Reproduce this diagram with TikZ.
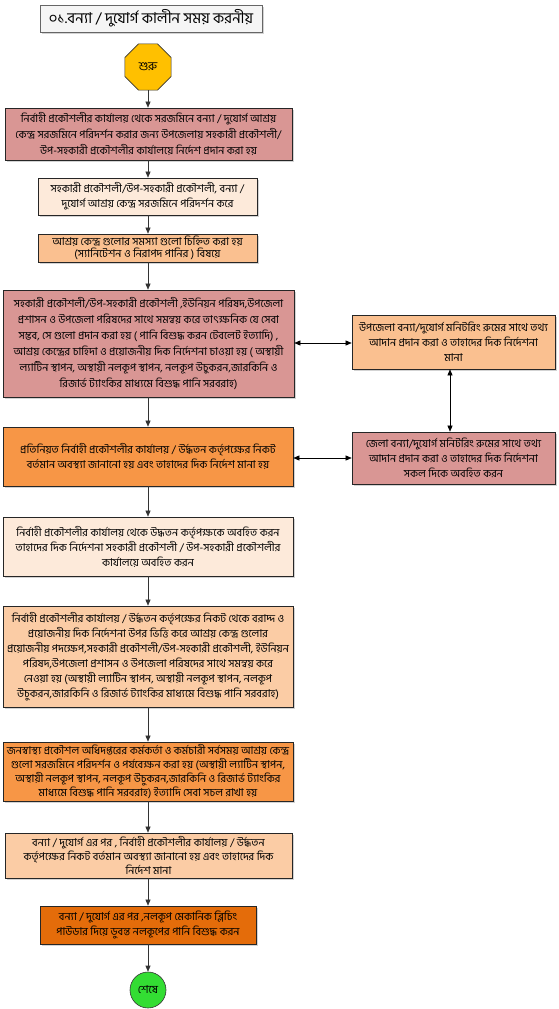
\documentclass[tikz,border=0pt]{standalone}
\usepackage{fontspec}
\usepackage{graphicx}
\newfontfamily\bn[Script=Bengali]{Hind Siliguri}
\usetikzlibrary{arrows.meta,shapes.geometric,shadows,calc}
\definecolor{rose}{HTML}{D99694}
\definecolor{lpeach}{HTML}{FDEADA}
\definecolor{lorange}{HTML}{FAC090}
\definecolor{morange}{HTML}{FBCCA5}
\definecolor{orange1}{HTML}{F79646}
\definecolor{orange2}{HTML}{E46C0A}
\definecolor{yel}{HTML}{FFC000}
\definecolor{grn}{HTML}{33DD33}
\newlength\maxw
\newcommand\fl[1]{\sbox0{#1}\ifdim\wd0>\maxw\resizebox{\maxw}{\height}{#1}\else\usebox0\fi}
\tikzset{
  box/.style={draw=black!85, line width=0.7pt, rectangle, align=center, inner sep=1pt,
    font=\bn\fontsize{10.8}{15}\selectfont,
    drop shadow={shadow xshift=1.5pt, shadow yshift=-1.5pt, opacity=0.35}},
  mw/.style={execute at begin node={\setlength\maxw{#1pt}}},
  arr/.style={-{Triangle[length=6pt,width=5pt]}, line width=0.6pt, draw=black!80},
  darr/.style={{Triangle[length=6pt,width=5pt]}-{Triangle[length=6pt,width=5pt]}, line width=0.6pt},
}
\begin{document}
\begin{tikzpicture}[x=1pt,y=-1pt]
\useasboundingbox (0,0) rectangle (558,1009);
\node[box, fill=black!4, draw=black!60, minimum width=222, minimum height=27, font=\bn\fontsize{15}{16}\selectfont] (title) at (151,18.5) {০১.বন্যা / দুযোর্গ কালীন সময় করনীয়};
\node[draw=black!80, line width=0.6pt, fill=yel, regular polygon, regular polygon sides=8, minimum size=50, inner sep=0pt, font=\bn\fontsize{12}{13}\selectfont] (start) at (148,67) {শুরু};
\node[box, mw=277, fill=rose, minimum width=287, minimum height=52, font=\bn\fontsize{10.8}{16}\selectfont] (b1) at (148.5,134) {\fl{নির্বাহী প্রকৌশলীর কার্যালয় থেকে সরজমিনে বন্যা / দুযোর্গ আশ্রয়}\\\fl{কেন্দ্র সরজমিনে পরিদর্শন করার জন্য উপজেলায় সহকারী প্রকৌশলী/}\\\fl{উপ-সহকারী প্রকৌশলীর কার্যালয়ে নির্দেশ প্রদান করা  হয়}};
\node[box, mw=212, fill=lpeach, minimum width=219, minimum height=37] (b2) at (147.5,196.5) {\fl{সহকারী প্রকৌশলী/উপ-সহকারী প্রকৌশলী, বন্যা /}\\\fl{দুযোর্গ আশ্রয় কেন্দ্র সরজমিনে পরিদর্শন করে}};
\node[box, mw=212, fill=lorange, minimum width=219, minimum height=28, font=\bn\fontsize{10.8}{12}\selectfont] (b3) at (147.5,248) {\fl{আশ্রয় কেন্দ্র গুলোর সমস্যা গুলো চিহ্নিত করা হয়}\\\fl{(স্যানিটেশন ও নিরাপদ পানির ) বিষয়ে}};
\node[box, mw=280, fill=rose, minimum width=291, minimum height=107, font=\bn\fontsize{10.8}{16}\selectfont] (b4) at (148.5,343.5) {\fl{সহকারী প্রকৌশলী/উপ-সহকারী প্রকৌশলী ,ইউনিয়ন পরিষদ,উপজেলা}\\\fl{প্রশাসন ও উপজেলা পরিষদের সাথে সমন্বয় করে তাৎক্ষনিক যে সেবা}\\\fl{সম্ভব, সে গুলো প্রদান করা হয় ( পানি বিশুদ্ধ করন টেবলেট ইত্যাদি) ,}\\\fl{আশ্রয় কেন্দ্রের চাহিদা ও প্রয়োজনীয় দিক নির্দেশনা চাওয়া হয় ( অস্থায়ী}\\\fl{ল্যাটিন স্থাপন, অস্থায়ী নলকূপ স্থাপন, নলকূপ উচুকরন,জারকিনি ও}\\\fl{রিজার্ভ ট্যাংকির মাধ্যমে বিশুদ্ধ পানি সরবরাহ)}};
\node[box, mw=196, fill=lorange, minimum width=203, minimum height=54] (ra) at (453.5,342) {\fl{উপজেলা বন্যা/দুযোর্গ মনিটরিং রুমের সাথে তথ্য}\\\fl{আদান প্রদান করা ও তাহাদের দিক নির্দেশনা}\\\fl{মানা}};
\node[box, mw=196, fill=rose, minimum width=203, minimum height=52] (rb) at (453.5,458) {\fl{জেলা বন্যা/দুযোর্গ মনিটরিং রুমের সাথে তথ্য}\\\fl{আদান প্রদান করা ও তাহাদের দিক নির্দেশনা}\\\fl{সকল দিকে অবহিত করন}};
\node[box, mw=280, fill=orange1, minimum width=290, minimum height=59] (b5) at (148,456.5) {\fl{প্রতিনিয়ত নির্বাহী প্রকৌশলীর কার্যালয় / উর্দ্ধতন কর্তৃপক্ষের নিকট}\\\fl{বর্তমান অবস্থ্যা জানানো হয় এবং তাহাদের দিক নির্দেশ মানা হয়}};
\node[box, mw=280, fill=lpeach, minimum width=290, minimum height=59] (b6) at (148,546.5) {\fl{নির্বাহী প্রকৌশলীর কার্যালয় থেকে উদ্ধতন কর্তৃপক্ষকে অবহিত করন}\\\fl{তাহাদের দিক নির্দেশনা সহকারী প্রকৌশলী / উপ-সহকারী প্রকৌশলীর}\\\fl{কার্যালয়ে অবহিত করন}};
\node[box, mw=284, fill=morange, minimum width=290, minimum height=101] (b7) at (148,656.5) {\fl{নির্বাহী প্রকৌশলীর কার্যালয় / উর্দ্ধতন কর্তৃপক্ষের নিকট থেকে বরাদ্দ ও}\\\fl{প্রয়োজনীয় দিক নির্দেশনা উপর ভিত্তি করে আশ্রয় কেন্দ্র গুলোর}\\\fl{প্রয়োজনীয় পদক্ষেপ,সহকারী প্রকৌশলী/উপ-সহকারী প্রকৌশলী, ইউনিয়ন}\\\fl{পরিষদ,উপজেলা প্রশাসন ও উপজেলা পরিষদের সাথে সমন্বয় করে}\\\fl{নেওয়া হয় (অস্থায়ী ল্যাটিন স্থাপন, অস্থায়ী নলকূপ স্থাপন, নলকূপ}\\\fl{উচুকরন,জারকিনি ও  রিজার্ভ ট্যাংকির মাধ্যমে বিশুদ্ধ পানি সরবরাহ)}};
\node[box, mw=286, fill=orange1, minimum width=290, minimum height=59, font=\bn\fontsize{10.8}{14}\selectfont] (b8) at (148,771.5) {\fl{জনস্বাস্থ্য প্রকৌশল অধিদপ্তরের কর্মকর্তা ও কর্মচারী সর্বসময় আশ্রয় কেন্দ্র}\\\fl{গুলো সরজমিনে পরিদর্শন ও পর্যবেক্ষন করা হয় (অস্থায়ী ল্যাটিন স্থাপন,}\\\fl{অস্থায়ী নলকূপ স্থাপন, নলকূপ উচুকরন,জারকিনি ও  রিজার্ভ ট্যাংকির}\\\fl{মাধ্যমে বিশুদ্ধ পানি সরবরাহ) ইত্যাদি সেবা সচল রাখা হয়}};
\node[box, mw=276, fill=morange, minimum width=287, minimum height=45, font=\bn\fontsize{10.8}{14}\selectfont] (b9) at (148.5,855.5) {\fl{বন্যা / দুযোর্গ এর পর , নির্বাহী প্রকৌশলীর কার্যালয় / উর্দ্ধতন}\\\fl{কর্তৃপক্ষের নিকট বর্তমান অবস্থ্যা জানানো হয় এবং তাহাদের দিক}\\\fl{নির্দেশ মানা}};
\node[box, mw=200, fill=orange2, minimum width=216, minimum height=38] (b10) at (148,925) {\fl{বন্যা / দুযোর্গ এর পর ,নলকূপ মেকানিক ব্লিচিং}\\\fl{পাউডার দিয়ে ডুবন্ত নলকূপের পানি বিশুদ্ধ করন}};
\node[circle, draw=black!80, line width=0.6pt, fill=grn, minimum size=36, inner sep=0pt, font=\bn\fontsize{11}{12}\selectfont] (end) at (148,990) {শেষে};
\draw[arr] (start.south) -- (start.south |- b1.north);
\foreach \a/\b in {b1/b2,b2/b3,b3/b4,b4/b5,b5/b6,b6/b7,b7/b8,b8/b9,b9/b10,b10/end}
  \draw[arr] (148,0 |- \a.south) -- (148,0 |- \b.north);
\draw[darr] (b4.east |- 0,343) -- (ra.west |- 0,343);
\draw[darr] (b5.east |- 0,458) -- (rb.west |- 0,458);
\draw[darr] ($(ra.south)+(-3.5,0)$) -- ($(rb.north)+(-3.5,0)$);
\end{tikzpicture}
\end{document}
